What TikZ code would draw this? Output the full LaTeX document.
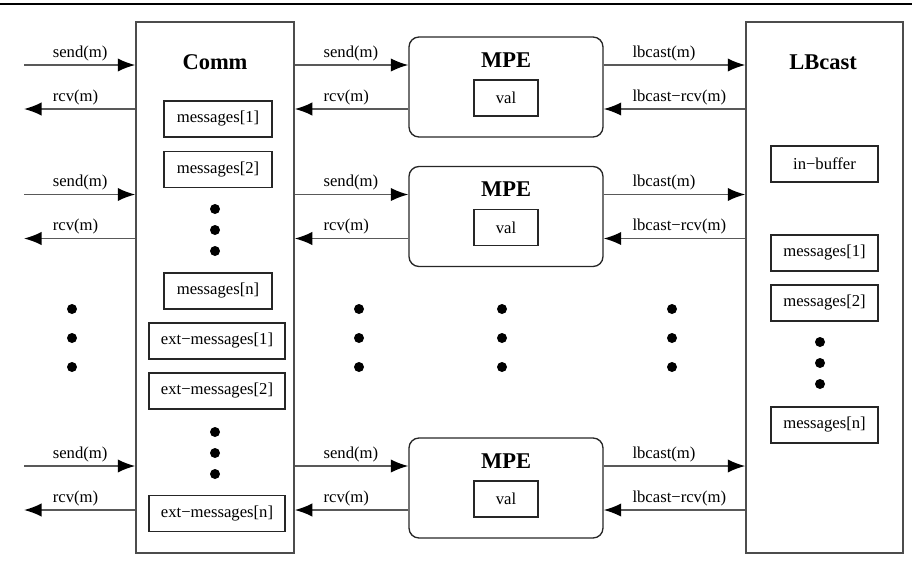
\documentclass[tikz,border=0pt]{standalone}
\usepackage{fontspec}
\setmainfont{Liberation Serif}
\usetikzlibrary{arrows.meta,positioning}

\begin{document}
\begin{tikzpicture}[x=0.6pt,y=-0.6pt,
    font=\fontsize{10}{12}\selectfont,
    module/.style={draw=black!70, line width=0.9pt, inner sep=0pt, minimum height=318.6pt},
    mpe/.style={draw=black!85, line width=0.8pt, rounded corners=6pt, inner sep=0pt,
      minimum width=116.4pt, minimum height=60pt},
    title/.style={font=\fontsize{13.5}{15}\selectfont\bfseries, inner sep=0pt},
    reg/.style={draw=black!85, line width=0.7pt, inner sep=0pt, minimum height=21.6pt},
    circ/.style={shape=circle, fill, inner sep=0pt, minimum size=6pt},
    arr/.style={draw=black!65, line width=1pt, -{Latex[length=10.5pt,width=8pt,color=black]}},
    lbl/.style={anchor=south west, inner sep=0pt, xshift=16.8pt, yshift=2pt}]
  \useasboundingbox (0,0) rectangle (912,565);
  \draw[line width=1pt] (0,4) -- (912,4);

  % the two big modules
  \node[module, minimum width=94.8pt] (comm) at (215,287.5) {};
  \node[title] (commt) at (215,62) {Comm};
  \node[module, minimum width=94.2pt] (lb) at (824.5,287.5) {};
  \node[title] (lbt) at (823,62) {LBcast};

  % Comm registers
  \node[reg, minimum width=64.8pt] (cm1) at (218,119) {messages[1]};
  \node[reg, minimum width=64.8pt] (cm2) at (218,169.5) {messages[2]};
  \node[reg, minimum width=64.8pt] (cmn) at (218,291) {messages[n]};
  \node[reg, minimum width=81.6pt] (ce1) at (217,341) {ext−messages[1]};
  \node[reg, minimum width=81.6pt] (ce2) at (217,391) {ext−messages[2]};
  \node[reg, minimum width=81.6pt] (cen) at (217,513.5) {ext−messages[n]};
  \foreach \y in {209,230,251} \node[circ] (cd\y) at (215,\y) {};
  \foreach \y in {432,453,474} \node[circ] (ced\y) at (215,\y) {};

  % LBcast registers
  \node[reg, minimum width=64.2pt] (lbin) at (824.5,164) {in−buffer};
  \node[reg, minimum width=64.2pt] (lb1) at (824.5,253) {messages[1]};
  \node[reg, minimum width=64.2pt] (lb2) at (824.5,303) {messages[2]};
  \node[reg, minimum width=64.2pt] (lbn) at (824.5,425) {messages[n]};
  \foreach \y in {342,363,384} \node[circ] (lbd\y) at (820,\y) {};

  % one MPE per row
  \foreach \i/\c in {1/87,2/216.5,3/488} {
    \node[mpe] (mpe\i) at (506,\c) {};
    \node[title] (mpet\i) at ([yshift=16.2pt]mpe\i.center) {MPE};
    \node[reg, minimum width=38.4pt] (val\i) at ([yshift=-6.6pt]mpe\i.center) {val};
    \coordinate (s\i) at ([yshift=13.2pt]mpe\i.west);
    \coordinate (r\i) at ([yshift=-13.2pt]mpe\i.west);
    \coordinate (ls\i) at (24,\c-22);
    \coordinate (lr\i) at (24,\c+22);

    \draw[arr] (ls\i) -- node[lbl, pos=0]{send(m)} (comm.west |- ls\i);
    \draw[arr] (comm.west |- lr\i) -- node[lbl, pos=1]{rcv(m)} (lr\i);
    \draw[arr] (comm.east |- s\i) -- node[lbl, pos=0]{send(m)} (s\i);
    \draw[arr] (r\i) -- node[lbl, pos=1]{rcv(m)} (comm.east |- r\i);
    \draw[arr] ([yshift=13.2pt]mpe\i.east) -- node[lbl, pos=0]{lbcast(m)} (lb.west |- s\i);
    \draw[arr] (lb.west |- r\i) -- node[lbl, pos=1]{lbcast−rcv(m)} ([yshift=-13.2pt]mpe\i.east);
  }

  % vertical ellipses between the rows
  \foreach \x in {72,359,502,672}
    \foreach \y in {309,338,367}
      \node[circ] (md\x\y) at (\x,\y) {};
\end{tikzpicture}
\end{document}
